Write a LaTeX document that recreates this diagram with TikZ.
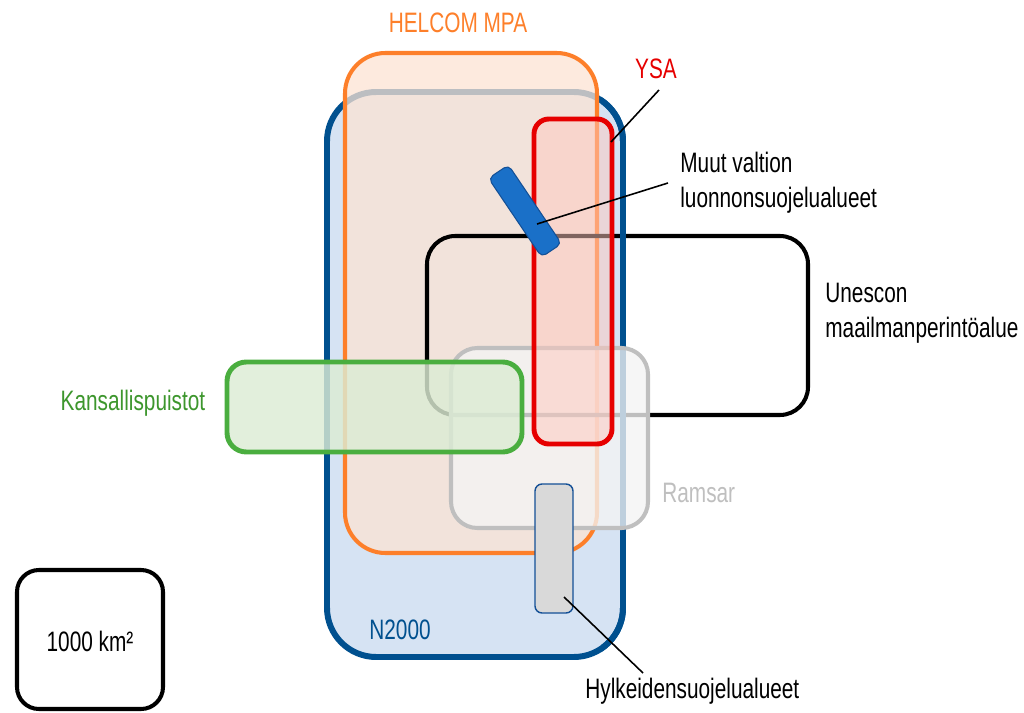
\documentclass[tikz,border=0pt]{standalone}
\usepackage{fontspec}
\setmainfont{Liberation Sans}[FakeStretch=0.74]

\definecolor{n2kblue}{RGB}{0,80,143}
\definecolor{n2kfill}{RGB}{214,227,243}
\definecolor{helorange}{RGB}{253,127,42}
\definecolor{helfill}{RGB}{252,227,211}
\definecolor{ysared}{RGB}{230,0,0}
\definecolor{ysafill}{RGB}{255,200,190}
\definecolor{ramgray}{RGB}{191,191,191}
\definecolor{ramfill}{RGB}{244,244,244}
\definecolor{kpgreen}{RGB}{74,174,63}
\definecolor{kpfill}{RGB}{220,236,212}
\definecolor{kptext}{RGB}{61,150,45}
\definecolor{muutblue}{RGB}{26,112,200}
\definecolor{muutline}{RGB}{20,80,150}
\definecolor{hylkfill}{RGB}{217,217,217}

\tikzset{
  lbl/.style={inner sep=0pt, font=\fontsize{16}{20}\selectfont},
  lead/.style={line width=0.9pt},
  n2000/.style={draw=n2kblue, line width=3.4pt, rounded corners=28pt},
  helcom/.style={draw=helorange, line width=2.3pt, rounded corners=23pt, fill=helfill, fill opacity=0.75},
  unesco/.style={draw=black, line width=2.3pt, rounded corners=16pt},
  ramsar/.style={draw=ramgray, line width=2.3pt, rounded corners=15pt, fill=ramfill, fill opacity=0.78},
  kansal/.style={draw=kpgreen, line width=2.8pt, rounded corners=11pt, fill=kpfill, fill opacity=0.82},
  ysa/.style={draw=ysared, line width=2.8pt, rounded corners=8.5pt, fill=ysafill, fill opacity=0.5},
  muutbox/.style={draw=muutline, line width=0.6pt, fill=muutblue, rounded corners=3pt, minimum width=1.9cm, minimum height=0.48cm, inner sep=0pt},
  hylkbox/.style={draw=muutline, line width=0.8pt, fill=hylkfill, rounded corners=4pt}
}

\begin{document}
\begin{tikzpicture}[x=0.02cm,y=-0.02cm]
 \useasboundingbox (0,0) rectangle (1024,713);

 % areas, back to front
 \draw[n2000, fill=n2kfill] (327,92) rectangle (623,657);
 \draw[helcom] (345,53) rectangle (597,553);
 \draw[unesco] (427,236) rectangle (808,415);
 \begin{scope}
  \clip (601,0) rectangle (700,713);
  \draw[n2000] (327,92) rectangle (623,657);
 \end{scope}
 \draw[ramsar] (451,348) rectangle (648,528);
 \draw[kansal] (227,362) rectangle (522,452);
 \draw[ysa] (534,119) rectangle (612,444);
 \node[muutbox, rotate=-56] (muut) at (525,211) {};
 \draw[hylkbox] (535,484) rectangle (573,613);

 % scale box
 \draw[line width=2.3pt, rounded corners=12.5pt] (17,570) rectangle (163,709);
 \node[lbl, anchor=base] (scale) at (90,651) {1000 km²};

 % labels
 \node[lbl, anchor=base, text=helorange] (helcomlbl) at (458,33) {HELCOM MPA};
 \node[lbl, anchor=base, text=ysared] (ysalbl) at (656,79) {YSA};
 \node[lbl, anchor=west, align=left] (muutlbl) at (680,183) {Muut valtion\\luonnonsuojelualueet};
 \node[lbl, anchor=west, align=left] (unescolbl) at (825,313) {Unescon\\maailmanperintöalue};
 \node[lbl, anchor=base, text=kptext] (kplbl) at (133,410) {Kansallispuistot};
 \node[lbl, anchor=base west, text=ramgray] (ramsarlbl) at (662,502) {Ramsar};
 \node[lbl, anchor=base, text=n2kblue] (n2klbl) at (400,639) {N2000};
 \node[lbl, anchor=base west] (hylklbl) at (585,698) {Hylkeidensuojelualueet};

 % leaders
 \coordinate (ysa tip) at (611,142);
 \coordinate (ysa end) at (659,90);
 \coordinate (muut tip) at (537,224);
 \coordinate (muut end) at (668,183);
 \coordinate (hylk tip) at (564,597);
 \coordinate (hylk end) at (643,673);
 \draw[lead] (ysa tip) -- (ysa end);
 \draw[lead] (muut tip) -- (muut end);
 \draw[lead] (hylk tip) -- (hylk end);
\end{tikzpicture}
\end{document}
